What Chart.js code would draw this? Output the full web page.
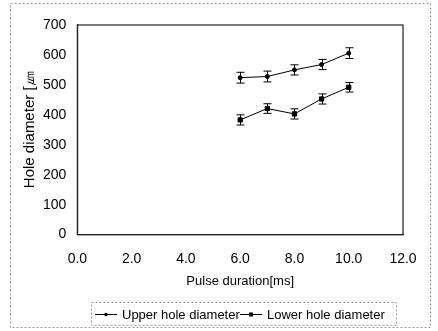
<!DOCTYPE html>
<html>
<head>
<meta charset="utf-8">
<script src="https://cdn.jsdelivr.net/npm/chart.js@4.4.1/dist/chart.umd.min.js"></script>
<style>
  html, body { margin: 0; padding: 0; background: #fff; }
  #wrap { width: 438px; height: 331px; }
</style>
</head>
<body>
<div id="wrap"><canvas id="chart" width="438" height="331"></canvas></div>
<script>
// Data
const pulseDuration = [6, 7, 8, 9, 10]
const upperDiameter = [524, 528, 550, 568, 606]
const upperError = [18, 18, 17, 17, 18]
const lowerDiameter = [383, 421, 403, 453, 492]
const lowerError = [17, 16, 17, 17, 16]
const xTicks = [0, 2, 4, 6, 8, 10, 12]
const yTicks = [0, 100, 200, 300, 400, 500, 600, 700]
const seriesNames = ['Upper hole diameter', 'Lower hole diameter']

const FONT = 'Liberation Sans, Arial, sans-serif'
const errors = [upperError, lowerError]

// Error bars, box around the plot, legend and dashed frames
const decorations = {
  id: 'decorations',
  afterDatasetsDraw(chart) {
    const { ctx, scales, chartArea } = chart
    ctx.save()
    ctx.strokeStyle = '#000'
    ctx.lineWidth = 1
    chart.data.datasets.forEach((ds, i) => {
      ds.data.forEach((p, j) => {
        const x = Math.round(scales.x.getPixelForValue(p.x)) + 0.5
        const yTop = scales.y.getPixelForValue(p.y + errors[i][j])
        const yBot = scales.y.getPixelForValue(p.y - errors[i][j])
        ctx.beginPath()
        ctx.moveTo(x, yTop)
        ctx.lineTo(x, yBot)
        ctx.moveTo(x - 4, yTop)
        ctx.lineTo(x + 4, yTop)
        ctx.moveTo(x - 4, yBot)
        ctx.lineTo(x + 4, yBot)
        ctx.stroke()
      })
    })
    // plot box
    ctx.strokeStyle = '#222'
    ctx.lineWidth = 1.2
    ctx.strokeRect(chartArea.left, chartArea.top, chartArea.right - chartArea.left, chartArea.bottom - chartArea.top)
    ctx.restore()
  },
  afterDraw(chart) {
    const { ctx } = chart
    ctx.save()
    ctx.strokeStyle = '#999'
    ctx.lineWidth = 1
    ctx.setLineDash([2, 2])
    ctx.strokeRect(10.5, 3.5, 420, 324)
    ctx.strokeRect(91.5, 302.5, 305, 23)
    ctx.setLineDash([])

    // legend entries
    const y = 314.5
    const starts = [95, 240]
    ctx.strokeStyle = '#000'
    ctx.fillStyle = '#000'
    ctx.font = '13px ' + FONT
    ctx.textBaseline = 'middle'
    starts.forEach((x0, i) => {
      ctx.beginPath()
      ctx.moveTo(x0, y)
      ctx.lineTo(x0 + 22, y)
      ctx.stroke()
      if (i === 1) ctx.fillRect(x0 + 9, y - 2, 4, 4)
      else { ctx.beginPath(); ctx.arc(x0 + 11, y, 1.8, 0, Math.PI * 2); ctx.fill() }
      ctx.fillText(seriesNames[i], x0 + 27, y + 1)
    })
    ctx.restore()
  }
}

new Chart(document.getElementById('chart'), {
  type: 'line',
  data: {
    datasets: seriesNames.map((name, i) => ({
      label: name,
      data: pulseDuration.map((x, j) => ({ x, y: [upperDiameter, lowerDiameter][i][j] })),
      borderColor: '#000',
      backgroundColor: '#000',
      borderWidth: 1,
      pointStyle: i === 0 ? 'circle' : 'rect',
      pointRadius: i === 0 ? 2 : 3,
      tension: 0
    }))
  },
  options: {
    responsive: false,
    animation: false,
    layout: { padding: { left: 21, right: 35, top: 25, bottom: 38 } },
    plugins: {
      tooltip: { enabled: false },
      legend: { display: false }
    },
    scales: {
      x: {
        type: 'linear',
        min: 0,
        max: 12,
        afterBuildTicks: (axis) => { axis.ticks = xTicks.map(v => ({ value: v })) },
        ticks: {
          color: '#000',
          font: { family: FONT, size: 14 },
          padding: 16,
          callback: (v) => v.toFixed(1)
        },
        grid: { display: false, drawTicks: false },
        border: { color: '#222', width: 1.2 },
        title: {
          display: true,
          text: 'Pulse duration[ms]',
          color: '#000',
          font: { family: FONT, size: 13 },
          padding: { top: -10, bottom: 4 }
        }
      },
      y: {
        min: 0,
        max: 700,
        afterBuildTicks: (axis) => { axis.ticks = yTicks.map(v => ({ value: v })) },
        ticks: {
          color: '#000',
          font: { family: FONT, size: 14 },
          padding: 11
        },
        grid: { display: false, drawTicks: false },
        border: { color: '#222', width: 1.2 },
        title: {
          display: true,
          text: 'Hole diameter [㎛',
          color: '#000',
          font: { family: FONT, size: 15 },
          padding: { top: 0, bottom: -7 }
        }
      }
    }
  },
  plugins: [decorations]
})
</script>
</body>
</html>
